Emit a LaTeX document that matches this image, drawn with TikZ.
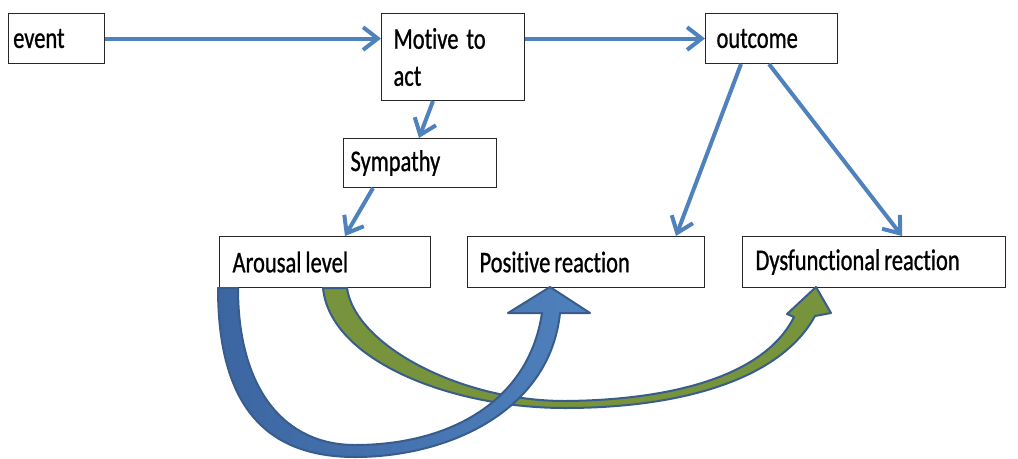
\documentclass[tikz,border=0pt]{standalone}
\usepackage{fontspec}
\setmainfont{Carlito}[FakeStretch=0.75, FakeBold=0.8, Ligatures=NoCommon]
\usetikzlibrary{arrows.meta,calc}
\definecolor{ablue}{RGB}{79,129,189}
\definecolor{dblue}{RGB}{56,93,140}
\definecolor{mblue}{RGB}{60,102,162}
\definecolor{agreen}{RGB}{119,147,60}
\definecolor{boxline}{RGB}{40,40,40}
\protected\def\myboxfont{\fontsize{22.5pt}{27.75pt}\selectfont}
\protected\def\ws{\hspace{3pt}}
\begin{document}
\begin{tikzpicture}[x=0.75pt,y=-0.75pt,
  box/.style={draw=boxline, line width=0.8pt, fill=white, anchor=north west,
    inner ysep=0pt, align=left, font=\myboxfont},
  link/.style={draw=ablue, line width=3pt, -{Straight Barb[length=11pt,width=17pt]}},
  bigarrow/.style={draw=dblue, line width=1.5pt, line join=round}]
\useasboundingbox (0,0) rectangle (1018,458);

% boxes
\node[box, inner xsep=3.5pt,  text width=65pt,     minimum height=37.5pt]  (event)    at (8,13)    {event};
\node[box, inner xsep=9pt,    text width=89.25pt,  minimum height=65.25pt] (motive)   at (381,13)  {Motive\hspace{6pt}to\\act};
\node[box, inner xsep=8.25pt, text width=82.5pt,   minimum height=37.5pt]  (outcome)  at (705,13)  {outcome};
\node[box, inner xsep=5.25pt, text width=104.25pt, minimum height=36.75pt] (symp)     at (343,138) {Sympathy};
\node[box, inner xsep=9.75pt, text width=138.75pt, minimum height=38.25pt] (arousal)  at (219,236) {Arousal\ws level};
\node[box, inner xsep=9pt,    text width=159.75pt, minimum height=38.25pt] (positive) at (467,236) {Positive\ws reaction};
\node[box, inner xsep=9.75pt, text width=177.75pt, minimum height=38.25pt] (dysf)     at (742,236) {Dysfunctional\ws reaction};

% thin connectors
\draw[link] (event.east) -- (event.east -| motive.west);
\draw[link] (motive.east |- outcome.west) -- (outcome.west);
\draw[link] ($(motive.south west)+(52,0)$) -- ($(symp.north west)+(76,0)$);
\draw[link] ($(symp.south west)+(30,0)$) -- ($(arousal.north west)+(126,0)$);
\draw[link] ($(outcome.south west)+(36,0)$) -- ($(positive.north west)+(209,0)$);
\draw[link] ($(outcome.south west)+(64,0)$) -- ($(dysf.north west)+(160,0)$);

% green curved arrow: Arousal level -> Dysfunctional reaction
\path[bigarrow, fill=agreen]
  (323,288) .. controls (330,360) and (450,408) .. (565,408)
  .. controls (680,408) and (780,380) .. (815,316)
  -- (831,313) -- (816,287) -- (787,314) -- (794,317)
  .. controls (765,375) and (675,400) .. (565,401)
  .. controls (460,401) and (355,345) .. (347,288) -- cycle;

% blue curved arrow: Arousal level -> Positive reaction
\path[bigarrow, left color=mblue, right color=ablue]
  (218,288) .. controls (218,405) and (265,457) .. (355,457)
  .. controls (450,457) and (550,410) .. (560,313)
  -- (590,313) -- (550,287) -- (508,313) -- (542,313)
  .. controls (528,405) and (445,445) .. (355,445)
  .. controls (285,445) and (238,390) .. (238,288) -- cycle;
\end{tikzpicture}
\end{document}
